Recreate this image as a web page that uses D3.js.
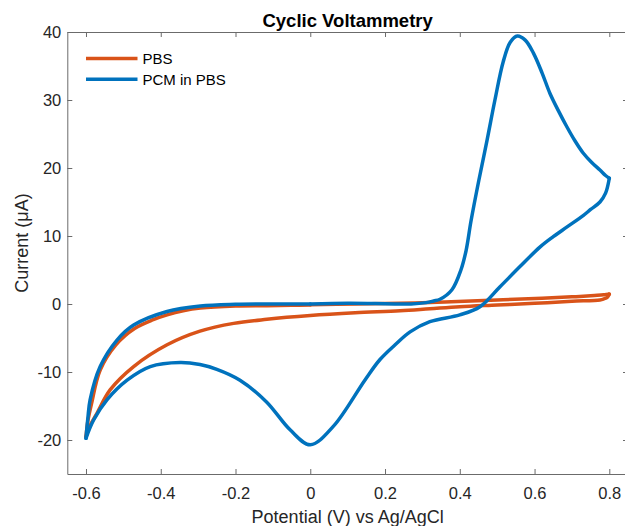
<!DOCTYPE html>
<html>
<head>
<meta charset="utf-8">
<script src="https://cdn.jsdelivr.net/npm/d3@7"></script>
<style>
  html, body { margin: 0; padding: 0; background: #fff; }
  svg { display: block; font-family: "Liberation Sans", Arial, Helvetica, sans-serif; }
</style>
</head>
<body>
<svg id="chart" width="625" height="526"></svg>
<script>
// ---------------- data ----------------
const chartTitle = "Cyclic Voltammetry";
const xLabel = "Potential (V) vs Ag/AgCl";
const yLabel = "Current (\u03BCA)";
const xTicks = [-0.6, -0.4, -0.2, 0, 0.2, 0.4, 0.6, 0.8];
const yTicks = [-20, -10, 0, 10, 20, 30, 40];
const seriesNames = ["PBS", "PCM in PBS"];
const seriesColors = ["#D95319", "#0072BD"];

// PBS (blank) scan: 0 -> 0.8 -> -0.6 -> 0
const pbsPotential = [0, 0.12, 0.24, 0.36, 0.5, 0.62, 0.7, 0.76, 0.785, 0.797, 0.8,
  0.795, 0.785, 0.775, 0.7, 0.6, 0.5, 0.4, 0.32, 0.24, 0.12, 0, -0.116, -0.205, -0.295,
  -0.383, -0.4725, -0.535, -0.571, -0.59, -0.6,
  -0.595, -0.585, -0.562, -0.52, -0.47, -0.42, -0.383, -0.34, -0.294, -0.2, -0.116, -0.05, 0];
const pbsCurrent = [-0.1, 0.0, 0.1, 0.3, 0.6, 0.85, 1.05, 1.25, 1.35, 1.45, 1.45,
  1.0, 0.75, 0.6, 0.4, 0.1, -0.15, -0.4, -0.7, -1.0, -1.3, -1.7, -2.25, -2.85, -4.0,
  -6.0, -9.2, -12.6, -16.1, -18.0, -19.5,
  -17.2, -14.6, -9.7, -6.0, -3.6, -2.3, -1.6, -1.0, -0.6, -0.3, -0.25, -0.2, -0.15];

// PCM in PBS scan: 0 -> 0.8 -> -0.6 -> 0
const pcmPotential = [0, 0.1, 0.2, 0.27, 0.31, 0.33, 0.347, 0.379, 0.403, 0.417, 0.430,
  0.451, 0.473, 0.494, 0.516, 0.535, 0.554, 0.575, 0.597, 0.62, 0.641, 0.664, 0.686, 0.708,
  0.73, 0.753, 0.775, 0.79, 0.8,
  0.79, 0.775, 0.75, 0.73, 0.686, 0.65, 0.615, 0.561, 0.507, 0.454, 0.40, 0.32, 0.267, 0.227,
  0.186, 0.146, 0.0615, 0, -0.054, -0.117, -0.188, -0.25, -0.295, -0.348, -0.428,
  -0.49, -0.544, -0.58, -0.6,
  -0.595, -0.589, -0.562, -0.517, -0.4725, -0.383, -0.294, -0.2, -0.116, 0];
const pcmCurrent = [0, 0.1, 0.05, 0, 0.2, 0.45, 0.7, 2.1, 5.0, 7.9, 12.2,
  18.2, 24.1, 30.0, 35.6, 38.5, 39.4, 38.8, 36.9, 34.0, 31.0, 28.4, 26.1, 24.0,
  22.2, 20.8, 19.7, 18.9, 18.5,
  16.3, 15.0, 13.9, 13.0, 11.3, 9.9, 8.4, 5.5, 2.5, -0.4, -1.6, -2.6, -4.1, -6.0,
  -8.2, -11.2, -18.0, -20.7, -18.5, -14.4, -11.2, -9.6, -8.9, -8.6, -9.2,
  -11.2, -14.1, -17.1, -19.75,
  -16.8, -14.1, -9.2, -5.3, -3.1, -1.1, -0.3, -0.05, 0, 0];

// ---------------- chart ----------------
const svg = d3.select("#chart");
const mLeft = 67.3, mRight = 628, mTop = 32, mBottom = 474;
const x = d3.scaleLinear().domain([-0.65, 0.85]).range([mLeft, mRight]);
const y = d3.scaleLinear().domain([-25, 40]).range([mBottom, mTop]);

const axisColor = "#6b6b6b";
const textColor = "#262626";

function styleAxis(g) {
  g.selectAll("path.domain").attr("stroke", axisColor).attr("stroke-width", 1);
  g.selectAll(".tick line").attr("stroke", axisColor).attr("stroke-width", 1);
  g.selectAll(".tick text").attr("fill", textColor).style("font-size", "16.5px")
    .style("font-family", "'Liberation Sans', Arial, Helvetica, sans-serif");
}
const fmt = d => String(+(+d).toFixed(1));

// bottom
svg.append("g").attr("transform", `translate(0,${mBottom})`)
  .call(d3.axisBottom(x).tickValues(xTicks).tickSizeInner(-5).tickSizeOuter(0).tickPadding(13)
    .tickFormat(fmt))
  .call(styleAxis);
// top
svg.append("g").attr("transform", `translate(0,${mTop})`)
  .call(d3.axisTop(x).tickValues(xTicks).tickSizeInner(-5).tickSizeOuter(0).tickFormat(""))
  .call(styleAxis);
// left
svg.append("g").attr("transform", `translate(${mLeft},0)`)
  .call(d3.axisLeft(y).tickValues(yTicks).tickSizeInner(-5).tickSizeOuter(0).tickPadding(6)
    .tickFormat(fmt))
  .call(styleAxis);
// right
svg.append("g").attr("transform", `translate(${mRight},0)`)
  .call(d3.axisRight(y).tickValues(yTicks).tickSizeInner(-5).tickSizeOuter(0).tickFormat(""))
  .call(styleAxis);

// lines: split each scan where sweep direction reverses, smooth each sweep
const series = [
  { name: seriesNames[0], color: seriesColors[0], v: pbsPotential, i: pbsCurrent },
  { name: seriesNames[1], color: seriesColors[1], v: pcmPotential, i: pcmCurrent }
];
const line = d3.line()
  .x(d => x(d[0])).y(d => y(d[1]))
  .curve(d3.curveCatmullRom.alpha(0.5));

function sweeps(pts) {
  const out = [];
  let cur = [pts[0]];
  let dir = 0;
  for (let k = 1; k < pts.length; k++) {
    const d = Math.sign(pts[k][0] - pts[k - 1][0]);
    if (dir !== 0 && d !== 0 && d !== dir) {
      out.push(cur);
      cur = [pts[k - 1]];
    }
    if (d !== 0) dir = d;
    cur.push(pts[k]);
  }
  out.push(cur);
  return out;
}

series.forEach(s => {
  const pts = s.v.map((v, k) => [v, s.i[k]]);
  const g = svg.append("g");
  sweeps(pts).forEach(seg => {
    g.append("path")
      .datum(seg)
      .attr("d", line)
      .attr("fill", "none")
      .attr("stroke", s.color)
      .attr("stroke-width", 3.5)
      .attr("stroke-linejoin", "round")
      .attr("stroke-linecap", "round");
  });
});

// legend
const legend = svg.append("g");
series.forEach((s, k) => {
  const ly = 58.5 + k * 20.8;
  legend.append("line")
    .attr("x1", 86).attr("x2", 137.5).attr("y1", ly).attr("y2", ly)
    .attr("stroke", s.color).attr("stroke-width", 3.5);
  legend.append("text")
    .attr("x", 142.5).attr("y", ly).attr("dy", "0.36em")
    .attr("fill", "#000").style("font-size", "15px")
    .text(s.name);
});

// title
svg.append("text")
  .attr("x", (mLeft + mRight) / 2).attr("y", 27)
  .attr("text-anchor", "middle")
  .style("font-size", "18.5px").style("font-weight", "bold")
  .attr("fill", "#000")
  .text(chartTitle);

// x label
svg.append("text")
  .attr("x", (mLeft + mRight) / 2).attr("y", 523)
  .attr("text-anchor", "middle")
  .style("font-size", "18px")
  .attr("fill", textColor)
  .text(xLabel);

// y label
svg.append("text")
  .attr("transform", `translate(28,${(mTop + mBottom) / 2 - 10}) rotate(-90)`)
  .attr("text-anchor", "middle")
  .style("font-size", "18px")
  .attr("fill", textColor)
  .text(yLabel);
</script>
</body>
</html>
